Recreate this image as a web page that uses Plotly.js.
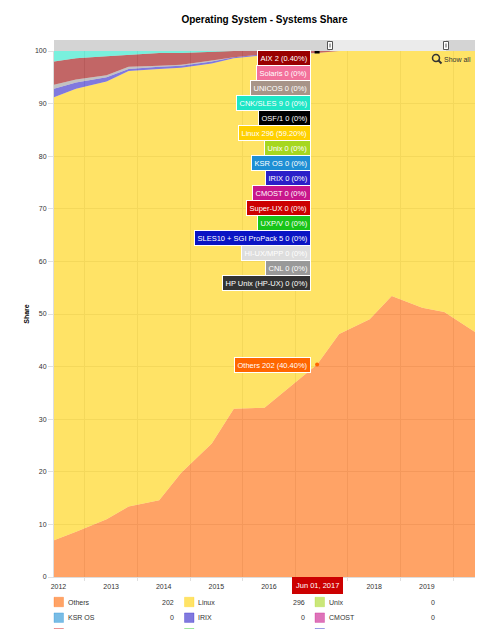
<!DOCTYPE html>
<html><head><meta charset="utf-8">
<script src="https://cdn.plot.ly/plotly-3.0.1.min.js"></script>
<style>html,body{margin:0;padding:0;background:#fff}</style>
</head><body><div id="chart" style="width:490px;height:629px"></div>
<script>
const dates = ['2012-06-01','2012-11-01','2013-06-01','2013-11-01','2014-06-01','2014-11-01','2015-06-01','2015-11-01','2016-06-01','2016-11-01','2017-06-01','2017-11-01','2018-06-01','2018-11-01','2019-06-01','2019-11-01','2020-06-01'];
const others   = [35,43,55,67,73,99,127,160,161,178,202,231,245,267,256,252,233];
const linux    = [421,421,416,414,410,385,361,333,335,319,296,269,255,233,244,248,267];
const unix     = [0,0,0,0,0,0,0,0,0,0,0,0,0,0,0,0,0];
const ksrOs    = [0,0,0,0,0,0,0,0,0,0,0,0,0,0,0,0,0];
const irix     = [8,6,4,2,2,2,2,1,1,1,0,0,0,0,0,0,0];
const cmost    = [0,0,0,0,0,0,0,0,0,0,0,0,0,0,0,0,0];
const superUx  = [0,0,0,0,0,0,0,0,0,0,0,0,0,0,0,0,0];
const uxpV     = [0,0,0,0,0,0,0,0,0,0,0,0,0,0,0,0,0];
const sles10   = [0,0,0,0,0,0,0,0,0,0,0,0,0,0,0,0,0];
const hiUxMpp  = [0,0,0,0,0,0,0,0,0,0,0,0,0,0,0,0,0];
const cnl      = [4,3,2,2,1,1,1,0,0,0,0,0,0,0,0,0,0];
const hpUnix   = [0,0,0,0,0,0,0,0,0,0,0,0,0,0,0,0,0];
const aix      = [22,20,18,11,12,11,8,6,3,2,2,0,0,0,0,0,0];
const solaris  = [0,0,0,0,0,0,0,0,0,0,0,0,0,0,0,0,0];
const unicos   = [0,0,0,0,0,0,0,0,0,0,0,0,0,0,0,0,0];
const cnkSles9 = [10,7,5,4,2,2,1,0,0,0,0,0,0,0,0,0,0];
const osf1     = [0,0,0,0,0,0,0,0,0,0,0,0,0,0,0,0,0];

const seriesNames = ['Others','Linux','Unix','KSR OS','IRIX','CMOST','Super-UX','UXP/V','SLES10 + SGI ProPack 5','HI-UX/MPP','CNL','HP Unix (HP-UX)','AIX','Solaris','UNICOS','CNK/SLES 9','OSF/1'];
const seriesData = [others,linux,unix,ksrOs,irix,cmost,superUx,uxpV,sles10,hiUxMpp,cnl,hpUnix,aix,solaris,unicos,cnkSles9,osf1];
const seriesColors = ['#FF6600','#FFD000','#A6D71F','#1E8FD4','#2B1FC8','#C8168B','#CC0000','#18C418','#0A14C4','#DDDDDD','#999999','#333333','#990000','#F3709B','#A79488','#1FE6C6','#000000'];
const tooltipOrder = ['AIX','Solaris','UNICOS','CNK/SLES 9','OSF/1','Linux','Unix','KSR OS','IRIX','CMOST','Super-UX','UXP/V','SLES10 + SGI ProPack 5','HI-UX/MPP','CNL','HP Unix (HP-UX)'];
const cursorIndex = 10;

const FONT = '"Liberation Sans", Arial, sans-serif';
function rgba(hex, a){const n=parseInt(hex.slice(1),16);return `rgba(${n>>16},${(n>>8)&255},${n&255},${a})`;}
const L=54, R=475, T=51, B=577;
const px = x => (x-L)/(R-L);
const py = y => (B-y)/(B-T);

const traces = seriesNames.map((name,i)=>({
  type:'scatter', mode:'lines', name, x:dates, y:seriesData[i],
  stackgroup:'one', groupnorm: i===0?'percent':undefined,
  line:{width:0, color:seriesColors[i]}, fillcolor:rgba(seriesColors[i],0.6),
  hoverinfo:'skip', showlegend:false
}));

const total = seriesData.reduce((s,arr)=>s+arr[cursorIndex],0);
const pct = v => v===0 ? '0%' : (v/total*100).toFixed(2)+'%';
const aixIdx = seriesNames.indexOf('AIX');
let cumAix = 0; for(let i=0;i<=aixIdx;i++) cumAix += seriesData[i][cursorIndex];
const cursorDate = dates[cursorIndex];

traces.push({type:'scatter', mode:'markers', x:[cursorDate], y:[cumAix/total*100], marker:{symbol:'square', size:5, color:'#000'}, hoverinfo:'skip', showlegend:false});
traces.push({type:'scatter', mode:'markers', x:[cursorDate], y:[others[cursorIndex]/total*100], marker:{size:4, color:'#FF6600'}, hoverinfo:'skip', showlegend:false});

const annotations = [];
tooltipOrder.forEach((name,k)=>{
  const i = seriesNames.indexOf(name);
  const v = seriesData[i][cursorIndex];
  annotations.push({xref:'x', yref:'paper', x:cursorDate, y:py(58.3+15*k), xanchor:'right', yanchor:'middle', xshift:-6,
    text:`${name} ${v} (${pct(v)})`, showarrow:false, font:{family:FONT,size:7.5,color:'#fff'},
    bgcolor:seriesColors[i], bordercolor:'#fff', borderwidth:1, borderpad:2.5});
});
annotations.push({xref:'x', yref:'y', x:cursorDate, y:others[cursorIndex]/total*100, xanchor:'right', yanchor:'middle', xshift:-6,
  text:`Others ${others[cursorIndex]} (${pct(others[cursorIndex])})`, showarrow:false, font:{family:FONT,size:7.5,color:'#fff'},
  bgcolor:'#FF6600', bordercolor:'#fff', borderwidth:1, borderpad:2.5});

const months=['Jan','Feb','Mar','Apr','May','Jun','Jul','Aug','Sep','Oct','Nov','Dec'];
const dp = cursorDate.split('-');
annotations.push({xref:'x', yref:'paper', x:cursorDate, y:py(585), xanchor:'center', yanchor:'middle',
  text:`${months[+dp[1]-1]} ${dp[2]}, ${dp[0]}`, showarrow:false, font:{family:FONT,size:7.5,color:'#fff'},
  bgcolor:'#CC0000', bordercolor:'#CC0000', borderwidth:1, borderpad:3});

annotations.push({xref:'paper', yref:'paper', x:px(442), y:py(60), xanchor:'left', yanchor:'middle', text:'Show all', showarrow:false, font:{family:FONT,size:7,color:'#333'}});

const shapes = [
  {type:'rect', xref:'paper', yref:'paper', x0:0, x1:1, y0:py(51), y1:py(40), fillcolor:'#D4D4D4', line:{width:0}, layer:'above'},
  {type:'rect', xref:'paper', yref:'paper', x0:px(330), x1:px(446), y0:py(51), y1:py(40), fillcolor:'#EBEBEB', line:{width:0}, layer:'above'},
  {type:'circle', xref:'paper', yref:'paper', x0:px(432.5), x1:px(439.5), y0:py(61.5), y1:py(54.5), line:{width:1.5,color:'#333'}, layer:'above'},
  {type:'line', xref:'paper', yref:'paper', x0:px(438.5), x1:px(441.5), y0:py(60.5), y1:py(63.5), line:{width:2,color:'#333'}, layer:'above'},
];
[330,446].forEach(gx=>{
  shapes.push({type:'rect', xref:'paper', yref:'paper', x0:px(gx-2.5), x1:px(gx+2.5), y0:py(49.5), y1:py(41.5), fillcolor:'#fff', line:{width:1,color:'#555'}, layer:'above'});
  shapes.push({type:'line', xref:'paper', yref:'paper', x0:px(gx), x1:px(gx), y0:py(47.5), y1:py(43.5), line:{width:1,color:'#555'}, layer:'above'});
});

// legend (3 columns); only the rows that fit inside the 629px picture carry text
const colSq=[54,184.5,315], colVal=[176,306.7,436.7];
seriesNames.forEach((name,i)=>{
  const c=i%3, r=Math.floor(i/3);
  const y=602+15.7*r;
  if (y-4.75 > 629) return;
  shapes.push({type:'rect', xref:'paper', yref:'paper', x0:px(colSq[c]), x1:px(colSq[c]+9.5), y0:py(y+4.75), y1:py(y-4.75), fillcolor:rgba(seriesColors[i],0.6), line:{width:1,color:rgba(seriesColors[i],0.3)}});
  if (y+5 > 629) return;
  annotations.push({xref:'paper', yref:'paper', x:px(colSq[c]+11.5), y:py(y), xanchor:'left', yanchor:'middle', text:name, showarrow:false, font:{family:FONT,size:7,color:'#333'}});
  annotations.push({xref:'paper', yref:'paper', x:px(colVal[c]), y:py(y), xanchor:'right', yanchor:'middle', text:String(seriesData[i][cursorIndex]), showarrow:false, font:{family:FONT,size:7,color:'#333'}});
});

const layout = {
  width:490, height:629, margin:{l:L, r:490-R, t:T, b:629-B},
  paper_bgcolor:'#fff', plot_bgcolor:'#fff', showlegend:false, hovermode:false,
  font:{family:FONT, size:7, color:'#333'},
  title:{text:'<b>Operating System - Systems Share</b>', font:{family:FONT,size:10,color:'#000'}, x:0.5, xref:'paper', y:1-19/629, yref:'container', yanchor:'middle'},
  xaxis:{type:'date', range:[dates[0], dates[dates.length-1]], tick0:'2012-01-01', dtick:'M12', ticklabelmode:'period', tickformat:'%Y',
    ticks:'outside', ticklen:3, tickcolor:'#e0e0e0', gridcolor:'#e4e4e4', showline:true, linecolor:'#dddddd', zeroline:false,
    tickfont:{family:FONT,size:7,color:'#333'}, fixedrange:true},
  yaxis:{range:[0,100], dtick:10, ticks:'outside', ticklen:5, tickcolor:'#e0e0e0', gridcolor:'#e4e4e4', showline:true, linecolor:'#dddddd', zeroline:false,
    tickfont:{family:FONT,size:7,color:'#333'}, title:{text:'<b>Share</b>', font:{family:FONT,size:7,color:'#000'}, standoff:4}, fixedrange:true},
  annotations, shapes
};
Plotly.newPlot('chart', traces, layout, {displayModeBar:false, staticPlot:true});
</script></body></html>
